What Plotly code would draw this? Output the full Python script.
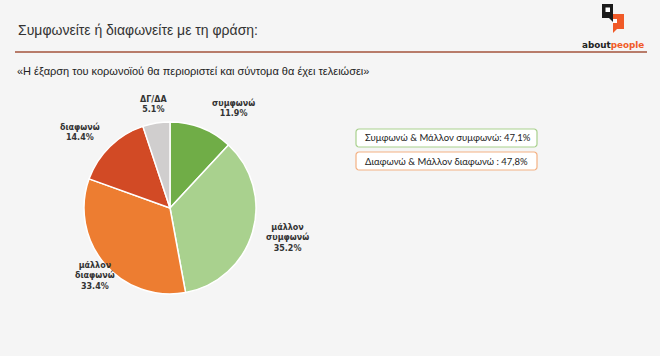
import math
import plotly.graph_objects as go

categories = ["συμφωνώ", "μάλλον<br>συμφωνώ", "μάλλον<br>διαφωνώ", "διαφωνώ", "ΔΓ/ΔΑ"]
values = [11.9, 35.2, 33.4, 14.4, 5.1]
colors = ["#70ad47", "#a9d18e", "#ed7d31", "#d24a25", "#d0cece"]
title_text = "Συμφωνείτε ή διαφωνείτε με τη φράση:"
subtitle_text = "«Η έξαρση του κορωνοϊού θα περιοριστεί και σύντομα θα έχει τελειώσει»"
box_texts = ["Συμφωνώ & Μάλλον συμφωνώ: 47,1%", "Διαφωνώ & Μάλλον διαφωνώ : 47,8%"]
box_colors = ["#a9d18e", "#f4b183"]

W, H = 660, 356
BG = "#f5f5f5"
cx, cy, r = 170, 208, 86  # pixel geometry
label_nudge = [(22, 0), (8, -8), (12, -12), (-10, 0), (2, 3)]  # label placement tweaks (px)


def px_x(x):
    return x / W


def px_y(y):
    return 1 - y / H


fig = go.Figure()
fig.add_trace(go.Pie(
    labels=categories, values=values, sort=False, direction="clockwise", rotation=0,
    marker=dict(colors=colors, line=dict(color="white", width=1.5)),
    textinfo="none", hoverinfo="label+percent", showlegend=False,
    domain=dict(x=[px_x(cx - r), px_x(cx + r)], y=[px_y(cy + r), px_y(cy - r)]),
))

annotations = []
# data labels placed at slice mid-angles
total = sum(values)
cum = 0
for cat, v, (nx, ny) in zip(categories, values, label_nudge):
    mid = (cum + v / 2) / total * 2 * math.pi
    cum += v
    lr = r * 1.33
    lx = cx + lr * math.sin(mid) + nx
    ly = cy - lr * math.cos(mid) + 6 + ny
    annotations.append(dict(
        x=px_x(lx), y=px_y(ly), xref="paper", yref="paper",
        text=f"<b>{cat}<br>{v:.1f}%</b>", showarrow=False,
        font=dict(family="DejaVu Sans", size=8, color="#333333"),
        xanchor="center", yanchor="middle", align="center"))

annotations.append(dict(x=px_x(16), y=px_y(30), xref="paper", yref="paper", text=title_text,
                        showarrow=False, xanchor="left", yanchor="middle",
                        font=dict(family="Liberation Sans", size=14, color="#333333")))
annotations.append(dict(x=px_x(15), y=px_y(71), xref="paper", yref="paper", text=subtitle_text,
                        showarrow=False, xanchor="left", yanchor="middle",
                        font=dict(family="Liberation Sans Narrow, Liberation Sans", size=11, color="#222222")))
annotations.append(dict(x=px_x(646), y=px_y(45), xref="paper", yref="paper",
                        text="<b>about</b><span style='color:#f05a28'><b>people</b></span>",
                        showarrow=False, xanchor="right", yanchor="middle",
                        font=dict(family="DejaVu Sans", size=8.8, color="#222222")))

shapes = []
# header rule
shapes.append(dict(type="line", xref="paper", yref="paper", x0=px_x(15), x1=px_x(647),
                   y0=px_y(52), y1=px_y(52), line=dict(color="#b87c6a", width=2)))


def rect(x0, y0, x1, y1, fill):
    return dict(type="rect", xref="paper", yref="paper", x0=px_x(x0), x1=px_x(x1),
                y0=px_y(y1), y1=px_y(y0), fillcolor=fill, line=dict(width=0))


def poly(points, fill, line=None):
    d = "M " + " L ".join(f"{px_x(a)},{px_y(b)}" for a, b in points) + " Z"
    return dict(type="path", xref="paper", yref="paper", path=d, fillcolor=fill,
                line=line or dict(width=0))


# logo
shapes.append(rect(613, 14, 624, 29, "#f05a28"))
shapes.append(poly([(613, 29), (617, 29), (613, 33)], "#f05a28"))
shapes.append(rect(602, 4, 613, 18, "#1a1a1a"))
shapes.append(poly([(609, 18), (613, 18), (613, 22)], "#1a1a1a"))
shapes.append(rect(605.5, 7.5, 610, 12, "white"))
shapes.append(rect(613, 19, 617, 23, "white"))

# summary boxes (rounded rectangles)
for i, (t, c) in enumerate(zip(box_texts, box_colors)):
    y0 = 129 + i * 23
    y1 = y0 + 18
    x0, x1, rr = 356, 537, 3
    pts = []
    for (ax, ay, a0) in [(x1 - rr, y0 + rr, -90), (x1 - rr, y1 - rr, 0),
                         (x0 + rr, y1 - rr, 90), (x0 + rr, y0 + rr, 180)]:
        for k in range(5):
            ang = math.radians(a0 + k * 22.5)
            pts.append((ax + rr * math.cos(ang), ay + rr * math.sin(ang)))
    shapes.append(poly(pts, "white", dict(color=c, width=1.2)))
    annotations.append(dict(x=px_x(x0 + 7), y=px_y((y0 + y1) / 2), xref="paper", yref="paper",
                            text=t, showarrow=False, xanchor="left", yanchor="middle",
                            font=dict(family="Lato, Open Sans", size=9.5, color="#222222")))

fig.update_layout(
    width=W, height=H, margin=dict(l=0, r=0, t=0, b=0),
    paper_bgcolor=BG, plot_bgcolor=BG,
    shapes=shapes, annotations=annotations,
)
fig.write_html(
    "out.html", config={"displayModeBar": False},
    post_script=("document.body.style.margin='0';document.body.style.padding='0';"
                 "document.body.style.background='" + BG + "';"
                 "document.documentElement.style.background='" + BG + "';"
                 "document.documentElement.style.overflow='hidden';"),
)
